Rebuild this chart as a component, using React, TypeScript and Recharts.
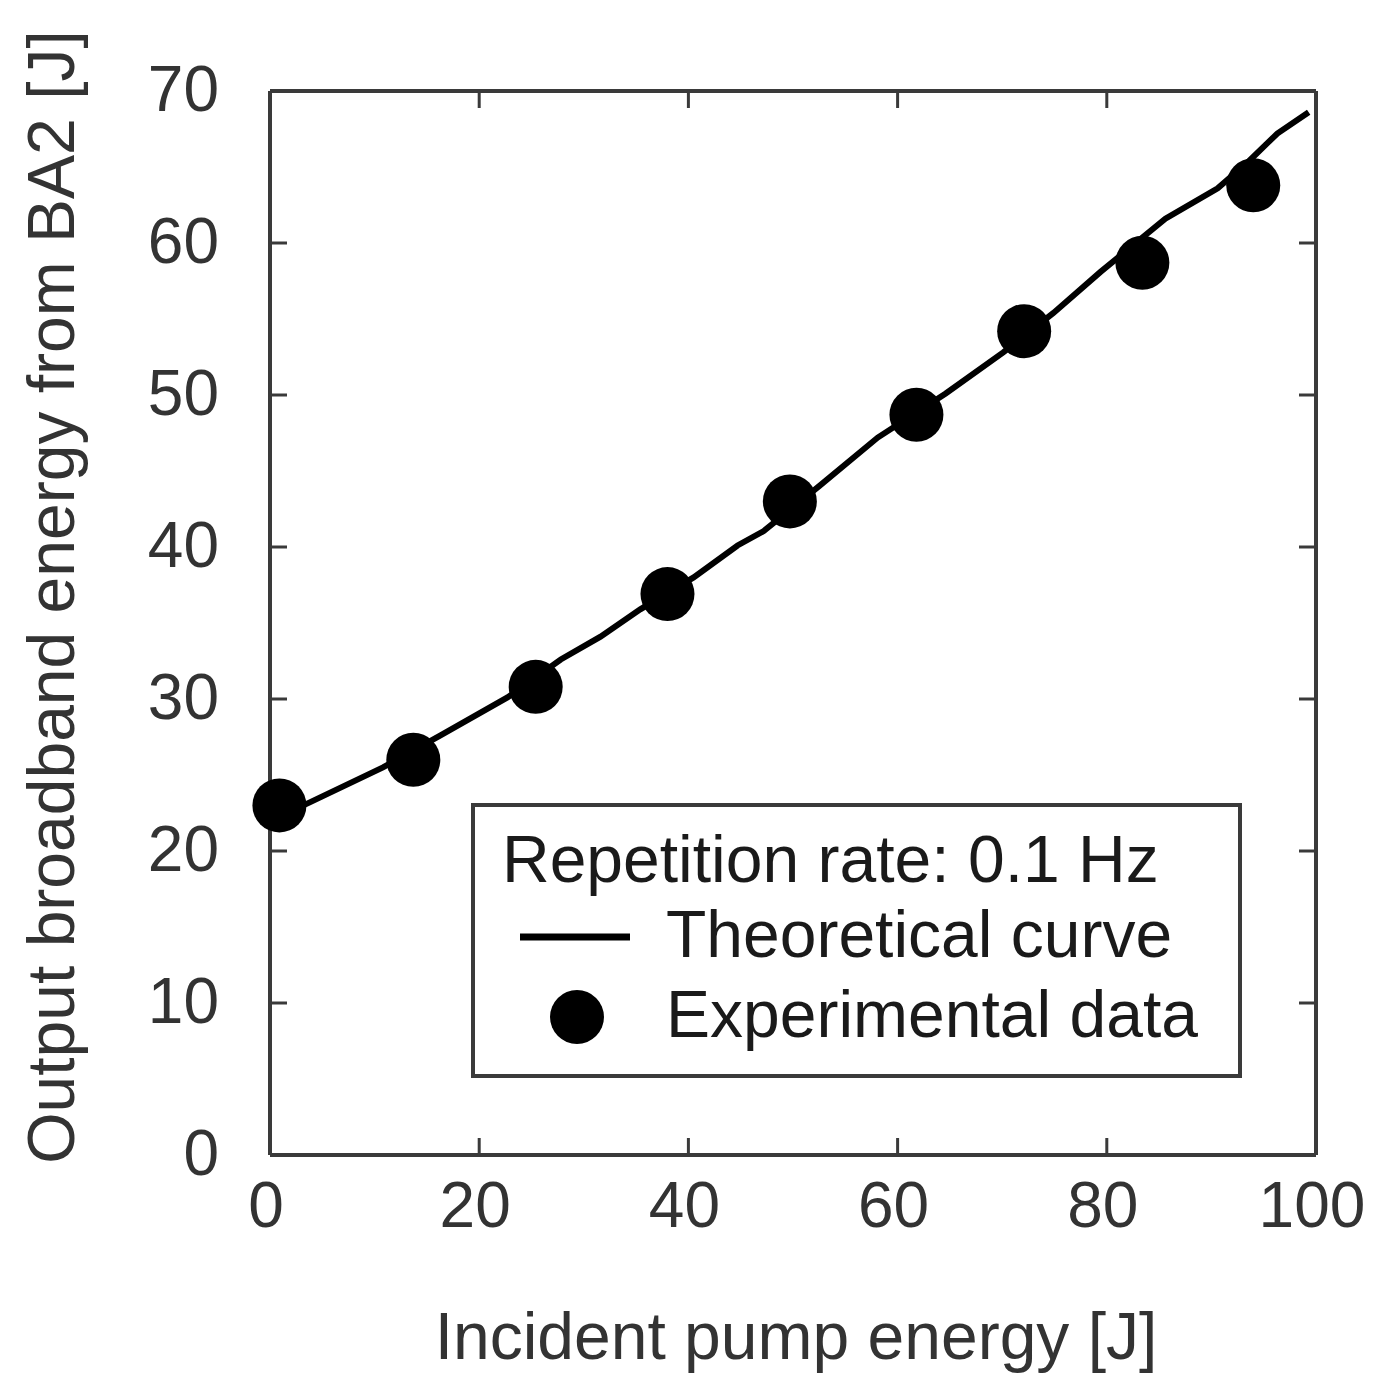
import { ComposedChart, Line, Scatter, XAxis, YAxis, ReferenceLine } from 'recharts';

// experimental data (incident pump energy [J] -> output energy [J])
const pumpEnergy = [0.9, 13.7, 25.4, 38.0, 49.7, 61.8, 72.1, 83.4, 94.0];
const outputEnergy = [23.0, 26.0, 30.8, 36.9, 43.0, 48.7, 54.2, 58.7, 63.8];

// theoretical curve
const curvePump = [1.0, 3.8, 10.8, 16.3, 22.7, 27.8, 31.6, 35.4, 40.5, 44.7, 47.2, 52.5, 58.1, 64.6, 70.1, 74.9, 79.4, 85.6, 90.6, 93.6, 96.3, 99.3];
const curveOutput = [22.3, 23.2, 25.5, 27.6, 30.1, 32.6, 34.1, 35.9, 38.0, 40.1, 41.05, 44.0, 47.2, 50.1, 52.8, 55.4, 58.1, 61.6, 63.6, 65.4, 67.2, 68.6];

const xTicks = [0, 20, 40, 60, 80, 100];
const yTicks = [0, 10, 20, 30, 40, 50, 60, 70];
const legendTitle = 'Repetition rate: 0.1 Hz';
const legendLabels = ['Theoretical curve', 'Experimental data'];

const W = 1379;
const H = 1396;
const margin = { top: 91, right: 63, left: 0, bottom: 0 };
const Y_AXIS_W = 270;
const X_AXIS_H = 241;
const plotW = W - Y_AXIS_W - margin.right;
const plotH = H - margin.top - X_AXIS_H;
const X_MAX = 100;
const Y_MAX = 70;
const TICK_PX = 17;
const FRAME = '#3a3a3a';
const FONT = '"Liberation Sans", Arial, sans-serif';

const expData = pumpEnergy.map((x, i) => ({ x, y: outputEnergy[i] }));
const curveData = curvePump.map((x, i) => ({ x, y: curveOutput[i] }));

const tx = (TICK_PX / plotW) * X_MAX;
const ty = (TICK_PX / plotH) * Y_MAX;
const innerX = xTicks.slice(1, -1);
const innerY = yTicks.slice(1, -1);

const Dot = (props: any) => <circle cx={props.cx} cy={props.cy} r={27} fill="#000" />;

export default function App() {
  return (
    <div style={{ position: 'relative', width: W, height: H, fontFamily: FONT }}>
      <style>{'body{margin:0}'}</style>
      <ComposedChart width={W} height={H} margin={margin}>
        <XAxis
          type="number"
          dataKey="x"
          domain={[0, X_MAX]}
          ticks={xTicks}
          height={X_AXIS_H}
          tickSize={0}
          tickMargin={27}
          tickLine={false}
          axisLine={{ stroke: FRAME, strokeWidth: 4 }}
          tick={{ fill: '#333', fontSize: 64, fontFamily: FONT, dx: -4 }}
          label={{
            content: () => (
              <text x={796} y={1359} textAnchor="middle" fill="#333" fontSize={66} fontFamily={FONT}>
                Incident pump energy [J]
              </text>
            ),
          }}
        />
        <YAxis
          type="number"
          dataKey="y"
          domain={[0, Y_MAX]}
          ticks={yTicks}
          width={Y_AXIS_W}
          tickSize={0}
          tickMargin={51}
          tickLine={false}
          axisLine={{ stroke: FRAME, strokeWidth: 4 }}
          tick={{ fill: '#333', fontSize: 64, fontFamily: FONT, dy: -3 }}
          label={{
            content: () => (
              <text
                x={74}
                y={597}
                transform="rotate(-90, 74, 597)"
                textAnchor="middle"
                fill="#333"
                fontSize={66}
                fontFamily={FONT}
              >
                Output broadband energy from BA2 [J]
              </text>
            ),
          }}
        />
        <ReferenceLine y={Y_MAX} stroke={FRAME} strokeWidth={4} />
        <ReferenceLine x={X_MAX} stroke={FRAME} strokeWidth={4} />
        {innerX.map((v) => (
          <ReferenceLine key={`b${v}`} segment={[{ x: v, y: 0 }, { x: v, y: ty }]} stroke={FRAME} strokeWidth={3} />
        ))}
        {innerX.map((v) => (
          <ReferenceLine key={`t${v}`} segment={[{ x: v, y: Y_MAX }, { x: v, y: Y_MAX - ty }]} stroke={FRAME} strokeWidth={3} />
        ))}
        {innerY.map((v) => (
          <ReferenceLine key={`l${v}`} segment={[{ x: 0, y: v }, { x: tx, y: v }]} stroke={FRAME} strokeWidth={3} />
        ))}
        {innerY.map((v) => (
          <ReferenceLine key={`r${v}`} segment={[{ x: X_MAX, y: v }, { x: X_MAX - tx, y: v }]} stroke={FRAME} strokeWidth={3} />
        ))}
        <Line
          data={curveData}
          dataKey="y"
          type="linear"
          stroke="#000"
          strokeWidth={6}
          dot={false}
          activeDot={false}
          isAnimationActive={false}
        />
        <Scatter data={expData} dataKey="y" shape={Dot} isAnimationActive={false} />
      </ComposedChart>

      <svg
        width={772}
        height={276}
        style={{ position: 'absolute', left: 471, top: 803 }}
        fontFamily={FONT}
      >
        <rect x={2} y={2} width={767} height={271} fill="#fff" stroke={FRAME} strokeWidth={4} />
        <text x={31} y={79} fontSize={66} fill="#1a1a1a">
          {legendTitle}
        </text>
        <line x1={49} x2={159} y1={134} y2={134} stroke="#000" strokeWidth={7} />
        <text x={195} y={154} fontSize={66} fill="#1a1a1a">
          {legendLabels[0]}
        </text>
        <circle cx={106} cy={214} r={27} fill="#000" />
        <text x={195} y={234} fontSize={66} fill="#1a1a1a">
          {legendLabels[1]}
        </text>
      </svg>
    </div>
  );
}
